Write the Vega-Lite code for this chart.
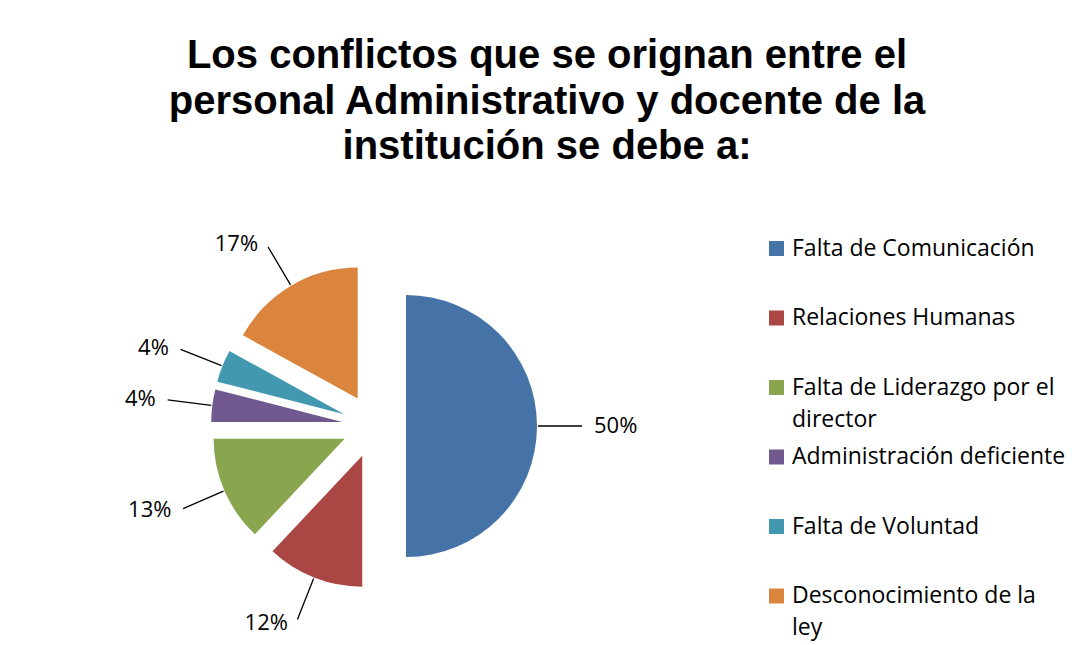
{
  "$schema": "https://vega.github.io/schema/vega-lite/v6.json",
  "width": 748,
  "height": 422,
  "autosize": {"type": "none"},
  "padding": {"left": 0, "top": 215, "right": 331, "bottom": 8},
  "background": "white",
  "config": {
    "view": {"stroke": null},
    "style": {"guide-label": {"lineHeight": 32}}
  },
  "title": {
    "text": ["Los conflictos que se orignan entre el", "personal Administrativo y docente de la", "institución se debe a:"],
    "font": "Liberation Sans",
    "fontSize": 40,
    "fontWeight": "bold",
    "color": "black",
    "lineHeight": 45.5,
    "anchor": "middle",
    "dx": 173,
    "offset": 48
  },
  "data": {
    "values": [
      {"causa": "Falta de Comunicación", "pct": 0.50, "orden": 1},
      {"causa": "Relaciones Humanas", "pct": 0.12, "orden": 2},
      {"causa": "Falta de Liderazgo por el director", "pct": 0.13, "orden": 3},
      {"causa": "Administración deficiente", "pct": 0.04, "orden": 4},
      {"causa": "Falta de Voluntad", "pct": 0.04, "orden": 5},
      {"causa": "Desconocimiento de la ley", "pct": 0.17, "orden": 6}
    ]
  },
  "encoding": {
    "theta": {"field": "pct", "type": "quantitative", "stack": true},
    "order": {"field": "orden", "type": "quantitative"},
    "color": {
      "field": "causa",
      "type": "nominal",
      "scale": {
        "domain": ["Falta de Comunicación", "Relaciones Humanas", "Falta de Liderazgo por el director", "Administración deficiente", "Falta de Voluntad", "Desconocimiento de la ley"],
        "range": ["#4572A7", "#AA4643", "#89A54E", "#71588F", "#4198AF", "#DB843D"]
      },
      "legend": {
        "orient": "none",
        "legendX": 765,
        "legendY": 22,
        "direction": "vertical",
        "title": null,
        "symbolType": "square",
        "symbolSize": 225,
        "symbolStrokeWidth": 0,
        "labelFont": "Open Sans",
        "labelFontSize": 23,
        "labelColor": "black",
        "labelOffset": 4,
        "labelLimit": 400,
        "rowPadding": 13.5,
        "labelExpr": "datum.label == 'Falta de Liderazgo por el director' ? ['Falta de Liderazgo por el', 'director'] : datum.label == 'Desconocimiento de la ley' ? ['Desconocimiento de la', 'ley'] : [datum.label, '']"
      }
    }
  },
  "layer": [
    {
      "mark": {
        "type": "arc",
        "outerRadius": 131,
        "x": {"expr": "width/2 + 32*sin((scale('theta', datum.pct_start) + scale('theta', datum.pct_end))/2)"},
        "y": {"expr": "height/2 - 32*cos((scale('theta', datum.pct_start) + scale('theta', datum.pct_end))/2)"}
      }
    },
    {
      "mark": {
        "type": "arc",
        "innerRadius": 132,
        "outerRadius": 176,
        "padAngle": 3,
        "filled": false,
        "strokeWidth": 1.3,
        "x": {"expr": "width/2 + 32*sin((scale('theta', datum.pct_start) + scale('theta', datum.pct_end))/2)"},
        "y": {"expr": "height/2 - 32*cos((scale('theta', datum.pct_start) + scale('theta', datum.pct_end))/2)"}
      },
      "encoding": {
        "color": {"value": "black"},
        "detail": {"field": "causa"}
      }
    },
    {
      "mark": {
        "type": "text",
        "radius": 180,
        "font": "Open Sans",
        "fontSize": 22,
        "baseline": "middle",
        "align": {"expr": "sin((scale('theta', datum.pct_start) + scale('theta', datum.pct_end))/2) < 0 ? 'right' : 'left'"},
        "dx": {"expr": "sin((scale('theta', datum.pct_start) + scale('theta', datum.pct_end))/2) < 0 ? -8 : 8"},
        "x": {"expr": "width/2 + 32*sin((scale('theta', datum.pct_start) + scale('theta', datum.pct_end))/2)"},
        "y": {"expr": "height/2 - 32*cos((scale('theta', datum.pct_start) + scale('theta', datum.pct_end))/2)"}
      },
      "encoding": {
        "text": {"field": "pct", "type": "quantitative", "format": ".0%"},
        "color": {"value": "black"},
        "detail": {"field": "causa"}
      }
    }
  ]
}
